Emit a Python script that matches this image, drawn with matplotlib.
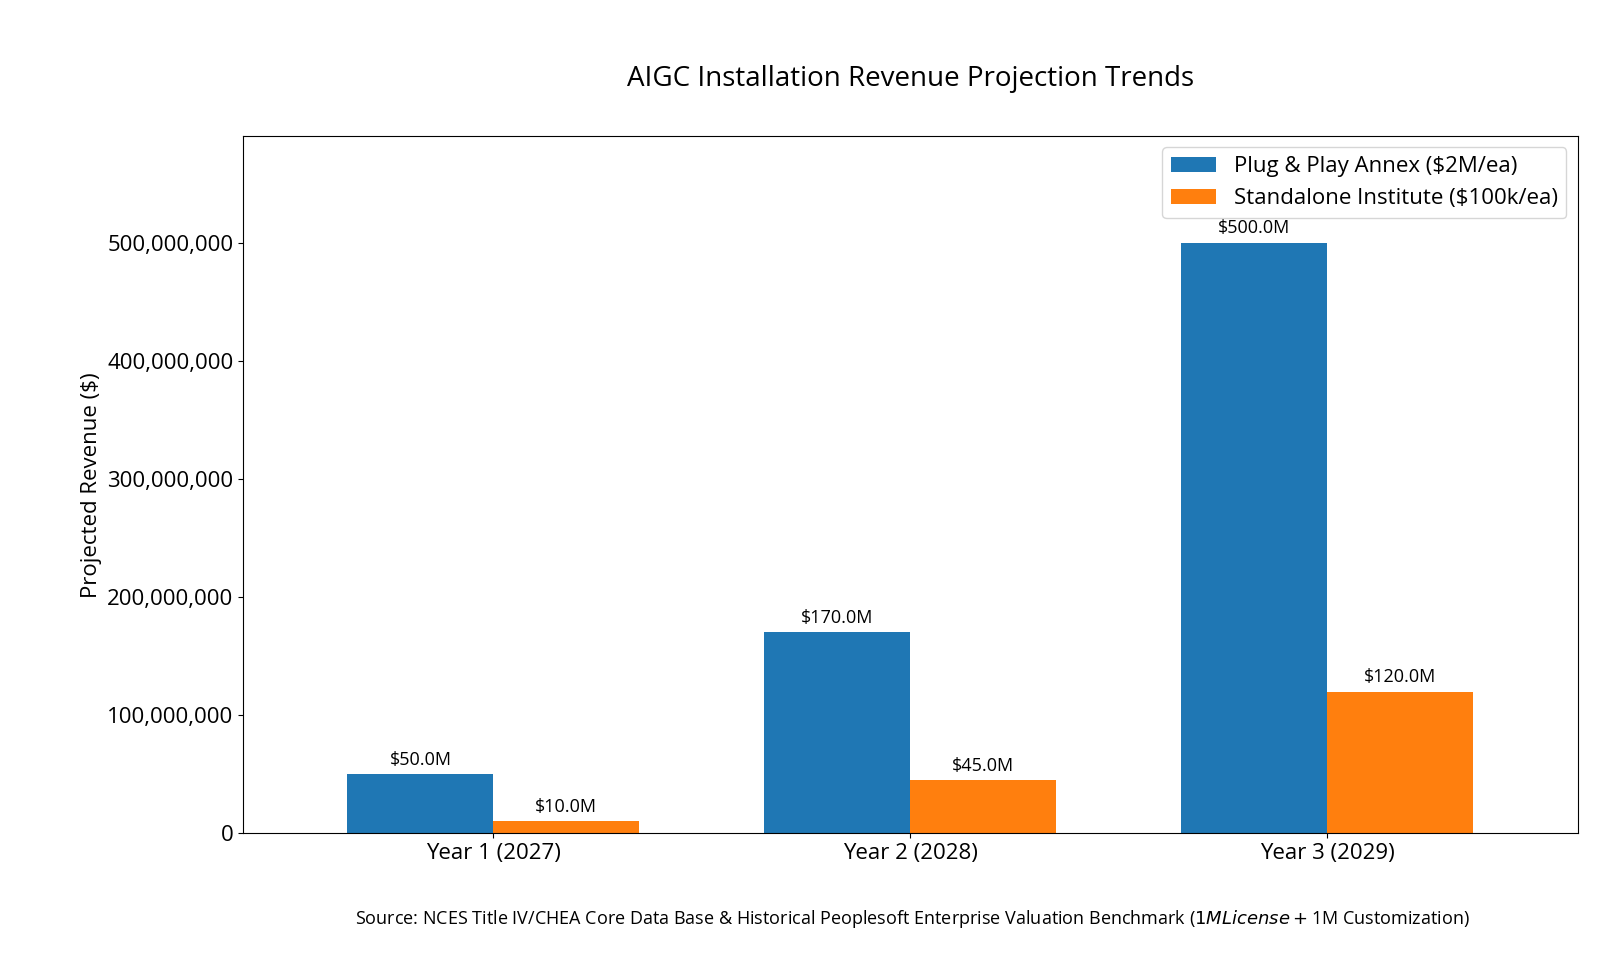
import matplotlib
matplotlib.use('Agg')
import matplotlib.pyplot as plt
import matplotlib.ticker as mticker
import numpy as np

plt.rcParams['font.family'] = ['Open Sans', 'DejaVu Sans']

years = ['Year 1 (2027)', 'Year 2 (2028)', 'Year 3 (2029)']
plug_play = [50e6, 170e6, 500e6]
standalone = [10e6, 45e6, 120e6]

x = np.arange(len(years))
width = 0.35

fig = plt.figure(figsize=(16, 9.6), dpi=100)
ax = fig.add_axes([0.152, 0.132, 0.834, 0.726])
b1 = ax.bar(x - width / 2, plug_play, width, color='#1f77b4', label='Plug & Play Annex ($2M/ea)')
b2 = ax.bar(x + width / 2, standalone, width, color='#ff7f0e', label='Standalone Institute ($100k/ea)')

for bars in (b1, b2):
    for r in bars:
        h = r.get_height()
        ax.annotate(f'${h / 1e6:.1f}M', (r.get_x() + r.get_width() / 2, h),
                    xytext=(0, 4), textcoords='offset points',
                    ha='center', va='bottom', fontsize=13)

ax.set_ylim(0, max(plug_play) * 1.18)
ax.set_xlim(-0.6, 2.6)
ax.set_xticks(x)
ax.set_xticklabels(years, fontsize=16)
ax.yaxis.set_major_formatter(mticker.FuncFormatter(lambda v, p: f'{int(v):,}'))
ax.tick_params(axis='y', labelsize=16)
ax.set_ylabel('Projected Revenue ($)', fontsize=16)
ax.set_title('AIGC Installation Revenue Projection Trends', fontsize=20, pad=36)
ax.legend(fontsize=16, loc='upper right')

fig.text(0.57, 0.037, 'Source: NCES Title IV/CHEA Core Data Base & Historical Peoplesoft Enterprise '
         'Valuation Benchmark ($1M License + $1M Customization)', ha='center', fontsize=13)

fig.savefig('out.png')
